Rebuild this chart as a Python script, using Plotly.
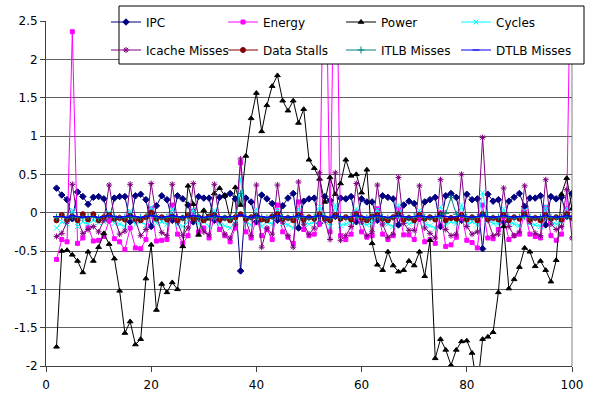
import plotly.graph_objects as go

x = [2, 3, 4, 5, 6, 7, 8, 9, 10, 11, 12, 13, 14, 15, 16, 17, 18, 19, 20, 21,
     22, 23, 24, 25, 26, 27, 28, 29, 30, 31, 32, 33, 34, 35, 36, 37, 38, 39, 40, 41,
     42, 43, 44, 45, 46, 47, 48, 49, 50, 51, 52, 53, 54, 55, 56, 57, 58, 59, 60, 61,
     62, 63, 64, 65, 66, 67, 68, 69, 70, 71, 72, 73, 74, 75, 76, 77, 78, 79, 80, 81,
     82, 83, 84, 85, 86, 87, 88, 89, 90, 91, 92, 93, 94, 95, 96, 97, 98, 99, 100]

ipc = [0.32, 0.23, 0.17, -0.08, 0.27, 0.21, 0.11, 0.20, 0.21, 0.18, -0.10, 0.19, 0.21, 0.21, -0.12, 0.22, 0.24, 0.17, -0.18, 0.09,
       0.22, 0.17, -0.10, 0.22, 0.18, 0.10, -0.12, 0.21, 0.19, 0.19, -0.10, 0.20, 0.22, 0.25, 0.18, -0.76, 0.19, 0.14, -0.12, 0.23,
       0.18, 0.12, -0.10, 0.09, 0.19, 0.25, -0.20, 0.15, 0.18, 0.19, -0.14, 0.21, 0.16, -0.05, 0.19, 0.18, 0.21, -0.12, 0.18, 0.14,
       0.14, -0.10, 0.22, 0.20, 0.18, -0.16, 0.10, 0.15, 0.12, -0.08, 0.14, 0.17, 0.20, -0.18, 0.22, 0.25, 0.20, -0.10, 0.24, 0.17,
       0.18, -0.47, 0.24, 0.15, 0.17, -0.12, 0.15, 0.20, 0.25, 0.08, 0.19, 0.19, 0.22, -0.16, 0.21, 0.18, 0.20, -0.05, 0.25]

energy = [-0.61, -0.35, -0.38, 2.36, -0.40, -0.33, -0.19, -0.37, -0.36, -0.31, -0.10, -0.34, -0.38, -0.48, -0.20, -0.46, -0.47, -0.35, 0.05, -0.37,
          -0.36, -0.35, 0.10, -0.28, -0.40, -0.30, 0.02, -0.25, -0.20, -0.33, -0.05, -0.22, -0.30, -0.38, -0.20, 0.65, -0.25, -0.33, -0.05, -0.30,
          -0.22, -0.35, 0.10, -0.25, -0.32, -0.40, 0.14, -0.22, -0.30, -0.28, -0.15, 4.50, -0.25, 4.50, -0.30, -0.35, -0.28, 0.00, -0.25, -0.32,
          -0.30, 0.05, -0.28, -0.35, -0.30, 0.05, -0.29, -0.29, -0.35, -0.05, -0.38, -0.35, -0.40, 0.00, -0.44, -0.42, -0.32, -0.02, -0.36, -0.39,
          -0.46, 0.10, -0.33, -0.34, -0.22, -0.05, -0.35, -0.30, -0.28, 0.01, -0.28, -0.31, -0.33, 0.07, -0.30, -0.36, -0.28, 0.05, 4.50]

power = [-1.75, -0.50, -0.49, -0.55, -0.63, -0.78, -0.51, -0.63, -0.45, -0.27, -0.41, -0.60, -1.02, -1.57, -1.42, -1.72, -1.65, -0.86, -0.42, -1.27,
         -0.93, -1.04, -0.91, -1.00, -0.44, 0.35, 0.11, -0.29, 0.03, -0.08, 0.25, 0.32, 0.22, -0.08, 0.33, 0.10, 0.74, 1.23, 1.56, 1.06,
         1.40, 1.65, 1.79, 1.46, 1.33, 1.46, 1.17, 1.35, 0.69, 0.58, 0.44, 0.14, 0.46, 0.24, 0.38, 0.69, 0.48, 0.50, 0.26, 0.56,
         -0.40, -0.68, -0.75, -0.51, -0.69, -0.77, -0.75, -0.63, -0.69, -0.51, -0.83, -0.36, -1.90, -1.65, -1.79, -1.99, -1.79, -1.68, -1.67, -1.83,
         -2.30, -1.65, -1.62, -1.56, -1.04, -0.18, -0.99, -0.87, -0.71, -0.46, -0.51, -0.70, -0.63, -0.75, -0.90, -0.62, 0.24, 0.45, 0.05]

cycles = [-0.20, -0.12, -0.15, 0.03, -0.18, -0.12, -0.15, -0.10, -0.13, -0.12, 0.00, -0.14, -0.15, -0.18, 0.02, -0.15, -0.12, -0.16, 0.07, -0.14,
          -0.12, -0.15, 0.05, -0.16, -0.18, -0.12, 0.04, -0.15, -0.12, -0.18, 0.03, -0.15, -0.17, -0.20, -0.12, 0.45, -0.12, -0.16, 0.05, -0.18,
          -0.12, -0.15, 0.04, -0.14, -0.16, -0.20, 0.05, -0.13, -0.15, -0.12, 0.08, -0.10, -0.18, 0.10, -0.17, -0.15, -0.12, 0.05, -0.14, -0.16,
          -0.13, 0.04, -0.12, -0.15, -0.18, 0.10, -0.10, -0.15, -0.12, 0.03, -0.15, -0.17, -0.20, 0.08, -0.15, -0.12, -0.14, 0.10, -0.15, -0.12,
          -0.16, 0.26, -0.10, -0.14, -0.15, 0.05, -0.12, -0.15, -0.17, 0.03, -0.14, -0.16, -0.18, 0.08, -0.13, -0.15, -0.12, 0.06, -0.15]

icache = [-0.31, -0.27, -0.12, 0.37, -0.08, -0.27, -0.22, -0.18, -0.25, -0.10, 0.36, -0.06, -0.28, -0.24, 0.37, -0.10, -0.30, -0.22, 0.38, -0.05,
          -0.26, -0.30, 0.37, -0.12, -0.30, -0.20, 0.38, -0.08, -0.25, -0.29, 0.37, -0.10, -0.28, -0.33, -0.15, 0.70, -0.10, -0.30, 0.36, -0.45,
          -0.20, -0.28, 0.36, -0.12, -0.30, -0.45, 0.40, -0.15, -0.28, -0.20, 0.52, -0.10, -0.35, 0.52, -0.36, -0.30, -0.18, 0.38, -0.12, -0.30,
          -0.25, 0.36, -0.15, -0.32, -0.28, 0.46, -0.14, -0.23, -0.23, 0.35, -0.20, -0.27, -0.33, 0.43, -0.22, -0.30, -0.28, 0.50, -0.18, -0.28,
          -0.25, 0.98, -0.10, -0.30, -0.28, 0.32, -0.18, -0.30, -0.25, 0.35, -0.12, -0.27, -0.30, 0.43, -0.15, -0.22, -0.18, 0.30, -0.33]

data_stalls = [-0.10, -0.03, -0.09, -0.05, -0.10, -0.02, -0.09, -0.02, -0.10, -0.06, -0.03, -0.08, -0.07, -0.09, -0.04, -0.08, -0.10, -0.06, 0.00, -0.08,
               -0.06, -0.09, -0.05, -0.10, -0.07, -0.04, -0.08, -0.06, -0.10, -0.05, -0.03, -0.09, -0.07, -0.10, -0.06, -0.02, -0.08, -0.06, -0.04, -0.09,
               -0.10, -0.05, -0.02, -0.08, -0.07, -0.10, -0.03, -0.09, -0.06, -0.08, -0.02, -0.07, -0.10, -0.03, -0.08, -0.06, -0.09, -0.02, -0.07, -0.10,
               -0.05, -0.03, -0.08, -0.10, -0.06, -0.02, -0.09, -0.07, -0.10, -0.03, -0.08, -0.06, -0.09, -0.02, -0.10, -0.07, -0.08, -0.03, -0.09, -0.06,
               -0.10, -0.02, -0.08, -0.07, -0.09, -0.03, -0.10, -0.06, -0.08, -0.02, -0.09, -0.07, -0.10, -0.03, -0.08, -0.06, -0.09, -0.02, -0.07]

itlb = [-0.06, -0.05, -0.07, -0.05, -0.06, -0.07, -0.05, -0.06, -0.07, -0.05, -0.04, -0.06, -0.07, -0.06, -0.05, -0.07, -0.06, -0.05, -0.04, -0.06,
        -0.07, -0.06, -0.05, -0.06, -0.07, -0.05, -0.05, -0.06, -0.07, -0.06, -0.05, -0.06, -0.07, -0.08, -0.05, 0.25, -0.06, -0.07, -0.05, -0.06,
        -0.07, -0.05, -0.05, -0.06, -0.07, -0.06, -0.05, -0.06, -0.07, -0.06, -0.04, -0.05, -0.07, -0.04, -0.06, -0.07, -0.05, -0.05, -0.06, -0.07,
        -0.06, -0.05, -0.06, -0.07, -0.06, -0.04, -0.06, -0.07, -0.05, -0.05, -0.06, -0.07, -0.06, -0.04, -0.01, 0.20, -0.02, -0.05, -0.06, -0.07,
        -0.06, -0.03, -0.06, -0.07, -0.06, -0.05, -0.06, -0.07, -0.06, -0.05, -0.06, -0.07, -0.06, -0.05, -0.06, -0.07, -0.06, -0.05, -0.06]

dtlb = [-0.05, -0.05, -0.06, -0.04, -0.05, -0.06, -0.05, -0.05, -0.06, -0.05, -0.04, -0.05, -0.06, -0.05, -0.04, -0.05, -0.06, -0.05, -0.04, -0.05,
        -0.06, -0.05, -0.04, -0.05, -0.06, -0.05, -0.04, -0.05, -0.06, -0.05, -0.04, -0.05, -0.06, -0.05, -0.05, -0.03, -0.05, -0.06, -0.04, -0.05,
        -0.06, -0.05, -0.04, -0.05, -0.06, -0.05, -0.04, -0.05, -0.06, -0.05, -0.04, -0.05, -0.06, -0.04, -0.05, -0.06, -0.05, -0.04, -0.05, -0.06,
        -0.05, -0.04, -0.05, -0.06, -0.05, -0.04, -0.05, -0.06, -0.05, -0.04, -0.05, -0.06, -0.05, -0.04, -0.05, -0.06, -0.05, -0.04, -0.05, -0.06,
        -0.05, -0.03, -0.05, -0.06, -0.05, -0.04, -0.05, -0.06, -0.05, -0.04, -0.05, -0.06, -0.05, -0.04, -0.05, -0.06, -0.05, -0.04, -0.05]

x_ticks = [0, 20, 40, 60, 80, 100]
y_ticks = [-2, -1.5, -1, -0.5, 0, 0.5, 1, 1.5, 2, 2.5]
y_tick_labels = ["-2", "-1.5", "-1", "-0.5", "0", "0.5", "1", "1.5", "2", "2.5"]

series = [
    ("IPC", ipc, "#000080", "diamond", 5),
    ("Energy", energy, "#FF00FF", "square", 4),
    ("Power", power, "#000000", "triangle-up", 5),
    ("Cycles", cycles, "#00FFFF", "x-thin-open", 5),
    ("Icache Misses", icache, "#800080", "asterisk-open", 5),
    ("Data Stalls", data_stalls, "#800000", "circle", 5),
    ("ITLB Misses", itlb, "#008080", "cross-thin-open", 5),
    ("DTLB Misses", dtlb, "#0000FF", "line-ew-open", 5),
]

font_family = "DejaVu Sans, Verdana, sans-serif"

# layout geometry (pixels)
W, H = 589, 397
ML, MR, MT, MB = 46, 17, 21, 31
PW, PH = W - ML - MR, H - MT - MB

def px_to_paper_x(px):
    return (px - ML) / PW

def px_to_paper_y(py):
    return 1 - (py - MT) / PH

# legend: 2 rows x 4 columns, each entry its own legend for exact placement
text_cols = [148, 265, 383, 498]
row_centers = [22, 50]

fig = go.Figure()
legend_layouts = {}
for i, (name, vals, color, sym, size) in enumerate(series):
    key = "legend" if i == 0 else f"legend{i + 1}"
    fig.add_trace(go.Scatter(
        x=x, y=vals, name=name, mode="lines+markers",
        line=dict(color=color, width=1),
        marker=dict(symbol=sym, size=size, color=color,
                    line=dict(color=color, width=1)),
        legend=key,
    ))
    col, row = i % 4, i // 4
    legend_layouts[key] = dict(
        x=px_to_paper_x(text_cols[col] - 42), y=px_to_paper_y(row_centers[row]),
        xanchor="left", yanchor="middle",
        bgcolor="rgba(0,0,0,0)", borderwidth=0,
        font=dict(family=font_family, size=12, color="#000000"),
        orientation="v",
    )

fig.update_layout(
    width=W, height=H,
    margin=dict(l=ML, r=MR, t=MT, b=MB, autoexpand=False),
    paper_bgcolor="white", plot_bgcolor="white",
    font=dict(family=font_family, size=12, color="#000000"),
    showlegend=True,
    xaxis=dict(
        range=[0, 100], tickvals=x_ticks, showgrid=False, zeroline=False,
        showline=True, linecolor="#404040", linewidth=1,
        ticks="outside", ticklen=5, tickcolor="#404040",
        ticklabelstandoff=3,
        tickfont=dict(family=font_family, size=12),
    ),
    yaxis=dict(
        range=[-2, 2.5], tickvals=y_ticks, ticktext=y_tick_labels,
        showgrid=True, gridcolor="#606060", gridwidth=1, zeroline=False,
        showline=True, linecolor="#404040", linewidth=1,
        ticks="outside", ticklen=5, tickcolor="#404040",
        tickfont=dict(family=font_family, size=12),
    ),
    shapes=[
        dict(type="line", xref="paper", yref="paper", x0=1, x1=1, y0=0, y1=1,
             line=dict(color="#C0C0C0", width=2), layer="below"),
        dict(type="rect", xref="paper", yref="paper",
             x0=px_to_paper_x(119), x1=px_to_paper_x(584),
             y0=px_to_paper_y(64), y1=px_to_paper_y(6),
             fillcolor="white", line=dict(color="#000000", width=1), layer="above"),
    ],
    **legend_layouts,
)

fig.write_html(
    "out.html",
    config={"displayModeBar": False},
    post_script="document.body.style.margin='0px';document.body.style.overflow='hidden';",
)
